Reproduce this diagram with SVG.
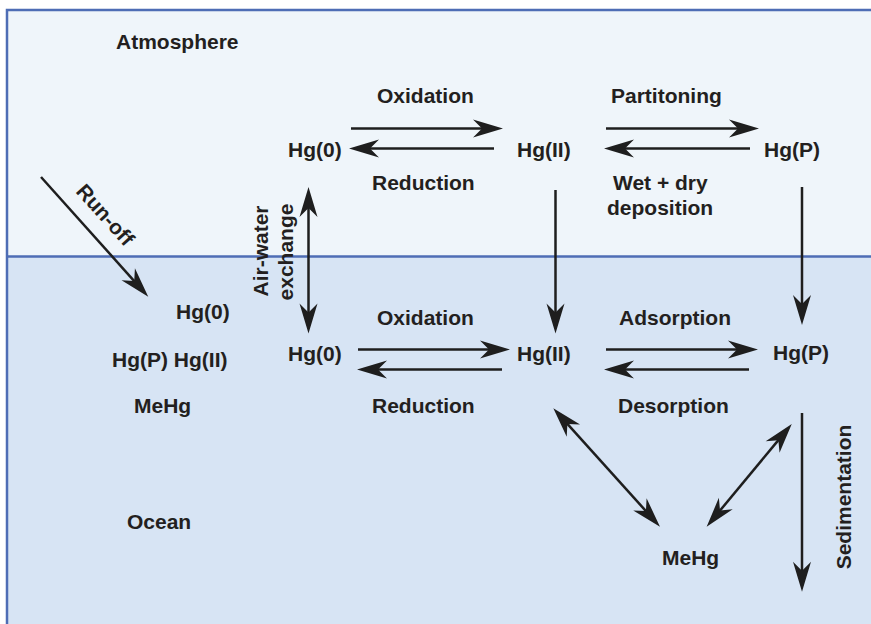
<svg xmlns="http://www.w3.org/2000/svg" width="871" height="624" viewBox="0 0 871 624">
  <style>
    .lbl { font-family: "Liberation Sans", Arial, sans-serif; font-weight: bold; font-size: 21px; fill: #231f20; }
    .arr { fill: none; stroke: #1e1e1e; stroke-width: 2.5; }
    .one { marker-end: url(#head); }
    .two { marker-start: url(#head); marker-end: url(#head); }
    .frame { fill: none; stroke: #4e6db5; stroke-width: 2.5; }
  </style>
  <defs>
    <!-- barbed arrowhead; line ends 20px behind the tip -->
    <marker id="head" markerUnits="userSpaceOnUse" viewBox="-32 -10 34 20" markerWidth="34" markerHeight="20" refX="-20" refY="0" orient="auto-start-reverse" overflow="visible">
      <path d="M0,0 L-30,-9 L-21,0 L-30,9 Z" fill="#1e1e1e"/>
    </marker>
  </defs>

  <!-- backgrounds -->
  <rect x="0" y="0" width="871" height="624" fill="#ffffff"/>
  <rect x="7" y="10" width="864" height="246.5" fill="#eff5fa"/>
  <rect x="7" y="256.5" width="864" height="367.5" fill="#d7e4f4"/>
  <path class="frame" d="M7,624 V10 H871"/>
  <path class="frame" d="M7,256.5 H871"/>

  <!-- compartment labels -->
  <g id="atmosphere"><text class="lbl" x="116" y="49">Atmosphere</text></g>
  <g id="ocean"><text class="lbl" x="127" y="529">Ocean</text></g>

  <!-- atmosphere species -->
  <g id="atm-hg0"><text class="lbl" x="288" y="157">Hg(0)</text></g>
  <g id="atm-hg2"><text class="lbl" x="517" y="157">Hg(II)</text></g>
  <g id="atm-hgp"><text class="lbl" x="764" y="157">Hg(P)</text></g>

  <!-- runoff species -->
  <g id="runoff-species">
    <text class="lbl" x="176" y="319">Hg(0)</text>
    <text class="lbl" x="112" y="367">Hg(P) Hg(II)</text>
    <text class="lbl" x="134" y="413">MeHg</text>
  </g>

  <!-- ocean species -->
  <g id="oc-hg0"><text class="lbl" x="288" y="361">Hg(0)</text></g>
  <g id="oc-hg2"><text class="lbl" x="517" y="361">Hg(II)</text></g>
  <g id="oc-hgp"><text class="lbl" x="773" y="360">Hg(P)</text></g>
  <g id="oc-mehg"><text class="lbl" x="662" y="565">MeHg</text></g>

  <!-- connectors -->
  <g id="connectors">
    <path class="arr one" d="M351,128.5 H483"/>
    <path class="arr one" d="M494,148.5 H369"/>
    <path class="arr one" d="M606,128.5 H739"/>
    <path class="arr one" d="M750,148.5 H624"/>
    <path class="arr two" d="M308.5,207 V313.5"/>
    <path class="arr one" d="M555.5,190 V313.5"/>
    <path class="arr one" d="M802,187 V305"/>
    <path class="arr one" d="M41,177 L134.9,281.8"/>
    <path class="arr one" d="M358,349.5 H490"/>
    <path class="arr one" d="M502,369.5 H377"/>
    <path class="arr one" d="M606,349.5 H738"/>
    <path class="arr one" d="M749,369.5 H624"/>
    <path class="arr one" d="M802,413 V571.7"/>
    <path class="arr two" d="M566.7,423.2 L646.6,511.8"/>
    <path class="arr two" d="M779,439.4 L719.4,511.3"/>
  </g>

  <!-- process labels -->
  <g id="process-labels">
    <text class="lbl" x="377" y="103">Oxidation</text>
    <text class="lbl" x="372" y="190">Reduction</text>
    <text class="lbl" x="611" y="103">Partitoning</text>
    <text class="lbl" x="613" y="190">Wet + dry</text>
    <text class="lbl" x="607" y="215">deposition</text>
    <text class="lbl" x="377" y="325">Oxidation</text>
    <text class="lbl" x="372" y="413">Reduction</text>
    <text class="lbl" x="619" y="325">Adsorption</text>
    <text class="lbl" x="618" y="413">Desorption</text>
    <text class="lbl" transform="translate(75,192) rotate(48)">Run-off</text>
    <text class="lbl" text-anchor="middle" transform="translate(268,251) rotate(-90)">Air-water</text>
    <text class="lbl" text-anchor="middle" transform="translate(293,252) rotate(-90)">exchange</text>
    <text class="lbl" text-anchor="middle" transform="translate(851,497) rotate(-90)">Sedimentation</text>
  </g>
</svg>
